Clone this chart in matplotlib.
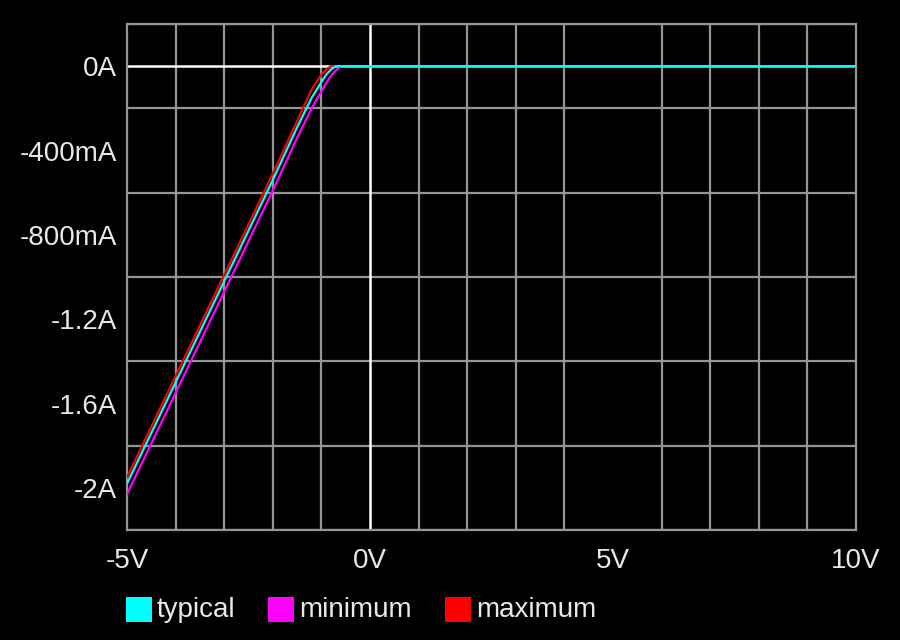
import matplotlib
matplotlib.use("Agg")
import matplotlib.pyplot as plt
from matplotlib.patches import Rectangle
import numpy as np

# ---- data ----
voltage = [-5.0, -4.5, -4.0, -3.5, -3.0, -2.5, -2.0, -1.5, -1.2, -1.0, -0.9, -0.8, -0.7, -0.6, 10.0]
typical = [-1.98, -1.74, -1.50, -1.26, -1.02, -0.78, -0.54, -0.29, -0.15, -0.075, -0.04, -0.015, 0.0, 0.0, 0.0]
minimum = [-2.03, -1.79, -1.55, -1.31, -1.07, -0.83, -0.59, -0.34, -0.20, -0.12, -0.08, -0.045, -0.02, 0.0, 0.0]
maximum = [-1.95, -1.71, -1.47, -1.23, -0.99, -0.75, -0.51, -0.26, -0.11, -0.04, -0.015, 0.0, 0.0, 0.0, 0.0]

series_names = ["typical", "minimum", "maximum"]
series_colors = ["#00ffff", "#ff00ff", "#ff0000"]

x_ticks = [-5, 0, 5, 10]
x_tick_labels = ["-5V", "0V", "5V", "10V"]
y_ticks = [0.0, -0.4, -0.8, -1.2, -1.6, -2.0]
y_tick_labels = ["0A", "-400mA", "-800mA", "-1.2A", "-1.6A", "-2A"]

plt.rcParams['font.family'] = ['Liberation Sans', 'DejaVu Sans']

fig = plt.figure(figsize=(9, 6.4), dpi=100, facecolor="black")
ax = fig.add_axes([127/900, 1 - 530/640, (856 - 127)/900, (530 - 24)/640])
ax.set_facecolor("black")

ax.set_xlim(-5, 10)
ax.set_ylim(-2.2, 0.2)

grid_col = "#959595"
ax.set_xticks(np.arange(-5, 11, 1), minor=True)
ax.set_yticks(np.arange(-2.2, 0.21, 0.2), minor=True)
ax.grid(which="minor", color=grid_col, linewidth=1.6)
ax.set_xticks(x_ticks)
ax.set_xticklabels(x_tick_labels)
ax.set_yticks(y_ticks)
ax.set_yticklabels(y_tick_labels)
ax.tick_params(which="both", length=0, colors="#e8e8e8", labelsize=20)
ax.tick_params(axis="x", pad=13)
ax.tick_params(axis="y", pad=7)
for s in ax.spines.values():
    s.set_color(grid_col)
    s.set_linewidth(1.6)
ax.set_axisbelow(True)

# zero lines
ax.axhline(0, color="white", linewidth=1.8, zorder=2)
ax.axvline(0, color="white", linewidth=1.8, zorder=2)

data = {"typical": typical, "minimum": minimum, "maximum": maximum}
zorders = {"typical": 5, "minimum": 3, "maximum": 4}
for name, col in zip(series_names, series_colors):
    ax.plot(voltage, data[name], color=col, linewidth=1.6, zorder=zorders[name], clip_on=True)

# legend (manual, matching original layout)
leg_x = [126, 268, 445]
for xpix, name, col in zip(leg_x, series_names, series_colors):
    fig.add_artist(Rectangle((xpix/900, 1 - 622/640), 26/900, 25/640,
                             transform=fig.transFigure, facecolor=col, edgecolor="none"))
    fig.text((xpix + 31)/900, 1 - 610/640, name, color="#e8e8e8", fontsize=20,
             ha="left", va="center")

fig.savefig("out.png", dpi=100, facecolor="black")
